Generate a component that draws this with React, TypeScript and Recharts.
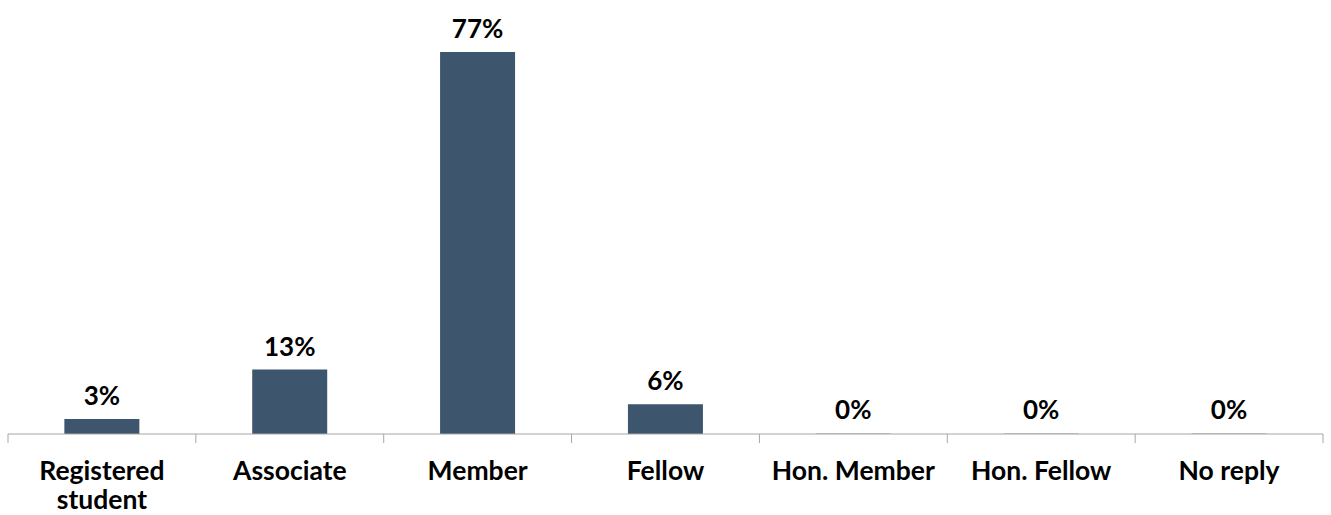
import { Bar, BarChart, Cell, LabelList, XAxis, YAxis } from "recharts";

const categories = [
  "Registered student",
  "Associate",
  "Member",
  "Fellow",
  "Hon. Member",
  "Hon. Fellow",
  "No reply",
];
const shares = [3, 13, 77, 6, 0, 0, 0];
const tickLines = [["Registered", "student"], ["Associate"], ["Member"], ["Fellow"], ["Hon. Member"], ["Hon. Fellow"], ["No reply"]];

const data = categories.map((name, i) => ({ name, value: shares[i] }));

const FONT = "Lato, 'Noto Sans', sans-serif";
const AXIS = "#a6a6a6";
const W = 1331;
const H = 515;
const LEFT = 8;
const RIGHT = 8;
const band = (W - LEFT - RIGHT) / categories.length;

function Tick(props: any) {
  const { x, y, payload, index } = props;
  const lines = tickLines[index] ?? [payload.value];
  const left = x - band / 2;
  return (
    <g>
      <line x1={left} x2={left} y1={y} y2={y + 9} stroke={AXIS} strokeWidth={1} />
      {index === categories.length - 1 && (
        <line x1={left + band} x2={left + band} y1={y} y2={y + 9} stroke={AXIS} strokeWidth={1} />
      )}
      <text x={x} y={y} textAnchor="middle" fontFamily={FONT} fontWeight={700} fontSize={26.5} fill="#000">
        {lines.map((l: string, i: number) => (
          <tspan key={i} x={x} dy={i === 0 ? 46 : 29}>
            {l}
          </tspan>
        ))}
      </text>
    </g>
  );
}

export default function App() {
  return (
    <div style={{ position: "absolute", left: 0, top: 0, background: "#fff" }}>
      <BarChart
        width={W}
        height={H}
        data={data}
        margin={{ top: 52, right: RIGHT, bottom: 0, left: LEFT }}
        barCategoryGap="30%"
      >
        <XAxis
          dataKey="name"
          interval={0}
          tickLine={false}
          tickSize={0}
          tickMargin={0}
          axisLine={{ stroke: AXIS, strokeWidth: 1 }}
          tick={<Tick />}
          height={81}
        />
        <YAxis hide domain={[0, 77]} />
        <Bar dataKey="value" fill="#3d566e" minPointSize={1} isAnimationActive={false}>
          {data.map((d, i) => (
            <Cell key={i} fill={d.value === 0 ? "#c8c8c8" : "#3d566e"} />
          ))}
          <LabelList
            dataKey="value"
            position="top"
            offset={14}
            formatter={(v: any) => `${v}%`}
            style={{ fontFamily: FONT, fontWeight: 700, fontSize: 26, fill: "#000" }}
          />
        </Bar>
      </BarChart>
    </div>
  );
}
